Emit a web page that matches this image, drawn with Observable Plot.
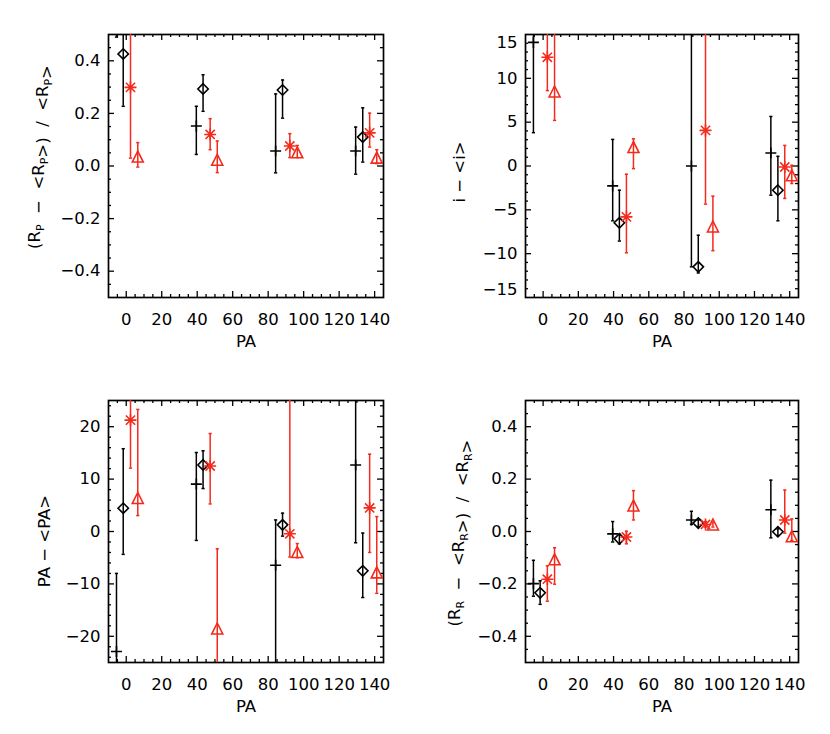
<!DOCTYPE html>
<html><head><meta charset="utf-8">
<script src="https://cdn.jsdelivr.net/npm/d3@7"></script>
<script src="https://cdn.jsdelivr.net/npm/@observablehq/plot@0.6"></script>
<style>
body{margin:0;background:#fff;}
#wrap{position:relative;width:830px;height:734px;background:#fff;}
.panel{position:absolute;}
</style></head><body><div id="wrap"></div>
<script>
// ---- x positions (PA, with small offsets per series) ----
const xPlus     = [-5.5, 39.5, 84.2, 129.3];
const xDiamond  = [-1.7, 43.3, 88.1, 133.3];
const xStar     = [2.4, 47.3, 92.2, 137.2];
const xTriangle = [6.5, 51.3, 96.4, 141.2];

// ---- panel 1: (Rp - <Rp>)/<Rp> ----
const rpPlus = [0.62, 0.152, 0.057, 0.057], rpPlusLo = [0.49, 0.044, -0.026, -0.031], rpPlusHi = [0.75, 0.227, 0.274, 0.148];
const rpDiam = [0.426, 0.293, 0.289, 0.110], rpDiamLo = [0.227, 0.208, 0.182, 0.015], rpDiamHi = [0.62, 0.347, 0.327, 0.221];
const rpStar = [0.299, 0.120, 0.076, 0.126], rpStarLo = [0.030, 0.062, 0.032, 0.072], rpStarHi = [0.57, 0.180, 0.123, 0.201];
const rpTri  = [0.036, 0.024, 0.052, 0.032], rpTriLo  = [-0.004, -0.025, 0.032, 0.009], rpTriHi = [0.089, 0.095, 0.078, 0.062];

// ---- panel 2: i - <i> ----
const iPlus = [14.1, -2.27, 0.0, 1.48], iPlusLo = [3.8, -6.25, -11.5, -3.33], iPlusHi = [24.4, 3.03, 17, 5.65];
const iDiam = [19, -6.48, -11.5, -2.76], iDiamLo = [16, -8.56, -12.2, -6.25], iDiamHi = [22, -2.76, -7.9, 1.1];
const iStar = [12.4, -5.8, 4.06, -0.11], iStarLo = [8.6, -9.9, -4.35, -3.7], iStarHi = [16.2, -0.94, 16, 2.35];
const iTri  = [8.5, 2.16, -6.9, -1.06], iTriLo = [5.2, -0.3, -9.66, -2.0], iTriHi = [16, 3.1, -3.44, 0.08];

// ---- panel 3: PA - <PA> ----
const paPlus = [-22.9, 9.05, -6.45, 12.7], paPlusLo = [-38, -1.7, -30, -2.15], paPlusHi = [-8.0, 15.07, 2.2, 27];
const paDiam = [4.44, 12.7, 1.27, -7.5], paDiamLo = [-4.36, 8.2, -0.88, -12.6], paDiamHi = [15.8, 15.4, 3.5, -0.3];
const paStar = [21.25, 12.5, -0.44, 4.5], paStarLo = [12.1, 5.26, -4.87, -4.0], paStarHi = [30, 18.7, 30, 14.75];
const paTri  = [6.4, -18.5, -3.9, -7.8], paTriLo = [3.04, -30, -5.0, -11.8], paTriHi = [23.3, -3.3, -2.3, 2.85];

// ---- panel 4: (Rr - <Rr>)/<Rr> ----
const rrPlus = [-0.199, -0.009, 0.044, 0.083], rrPlusLo = [-0.247, -0.040, 0.027, -0.024], rrPlusHi = [-0.11, 0.038, 0.077, 0.196];
const rrDiam = [-0.234, -0.028, 0.032, -0.001], rrDiamLo = [-0.278, -0.047, 0.019, -0.015], rrDiamHi = [-0.188, -0.011, 0.044, 0.010];
const rrStar = [-0.182, -0.021, 0.027, 0.044], rrStarLo = [-0.266, -0.047, 0.017, -0.006], rrStarHi = [-0.131, 0.001, 0.038, 0.158];
const rrTri  = [-0.106, 0.099, 0.027, -0.018], rrTriLo = [-0.201, 0.044, 0.017, -0.034], rrTriHi = [-0.062, 0.156, 0.035, 0.048];

// ---- tick labels ----
const xTickLabels = [0, 20, 40, 60, 80, 100, 120, 140];
const fracTickLabels = [-0.4, -0.2, 0.0, 0.2, 0.4];
const incTickLabels = [-10, -5, 0, 5, 10];
const incEdgeTop = [15], incEdgeBottom = [-15];
const paTickLabels = [-20, -10, 0, 10, 20];

const BLACK = "#000", RED = "#f42a1c";
const FONT = "DejaVu Sans";

const sym = fn => ({draw(c){ fn(c); }});
const plusSym = sym(c => {c.moveTo(-5.5,0);c.lineTo(5.5,0);c.moveTo(0,-5.5);c.lineTo(0,5.5);});
const diamSym = sym(c => {c.moveTo(0,-5.2);c.lineTo(5.2,0);c.lineTo(0,5.2);c.lineTo(-5.2,0);c.closePath();});
const starSym = sym(c => {c.moveTo(-6,0);c.lineTo(6,0);c.moveTo(0,-6);c.lineTo(0,6);c.moveTo(-4.6,-4.6);c.lineTo(4.6,4.6);c.moveTo(-4.6,4.6);c.lineTo(4.6,-4.6);});
const triSym  = sym(c => {c.moveTo(-5.5,5.5);c.lineTo(0,-5.5);c.lineTo(5.5,5.5);c.closePath();});
const capSym  = sym(c => {c.moveTo(-1.6,0);c.lineTo(1.6,0);});

function rows(x, v, lo, hi){ return x.map((d,i)=>({x:d, v:v[i], lo:lo[i], hi:hi[i]})); }

function seriesMarks(data, symbol, color){
  return [
    Plot.ruleX(data, {x:"x", y1:"lo", y2:"hi", stroke:color, strokeWidth:1.5, clip:true}),
    Plot.dot(data, {x:"x", y:"lo", r:3, symbol:capSym, stroke:color, fill:"none", strokeWidth:1.5, clip:true}),
    Plot.dot(data, {x:"x", y:"hi", r:3, symbol:capSym, stroke:color, fill:"none", strokeWidth:1.5, clip:true}),
    Plot.dot(data, {x:"x", y:"v", r:5, symbol, stroke:color, fill:"none", strokeWidth:1.6, clip:true})
  ];
}

function panel(cfg){
  const W = 415, H = 367;
  const FW = W - cfg.ml - cfg.mr, FH = H - cfg.mt - cfg.mb;
  const xMajor = xTickLabels;
  const xMinor = d3.range(-5, 145, 5).filter(d => d % 20 !== 0);
  const tickStyle = {stroke:BLACK, strokeWidth:1.3};
  const marks = [
    Plot.ruleX(xMajor, {x:d=>d, insetTop:FH-6, ...tickStyle}),
    Plot.ruleX(xMajor, {x:d=>d, insetBottom:FH-6, ...tickStyle}),
    Plot.ruleX(xMinor, {x:d=>d, insetTop:FH-3, ...tickStyle}),
    Plot.ruleX(xMinor, {x:d=>d, insetBottom:FH-3, ...tickStyle}),
    Plot.ruleY(cfg.yMajor, {y:d=>d, insetRight:FW-6, ...tickStyle}),
    Plot.ruleY(cfg.yMajor, {y:d=>d, insetLeft:FW-6, ...tickStyle}),
    Plot.ruleY(cfg.yMinor, {y:d=>d, insetRight:FW-3, ...tickStyle}),
    Plot.ruleY(cfg.yMinor, {y:d=>d, insetLeft:FW-3, ...tickStyle}),
    Plot.frame({stroke:BLACK, strokeWidth:1.7}),
    Plot.text(xTickLabels, {x:d=>d, frameAnchor:"bottom", dy:22, lineAnchor:"middle", text:d=>String(d), fontSize:16.5, fill:BLACK}),
    Plot.text(cfg.yLabels, {y:d=>d, frameAnchor:"left", dx:-8, textAnchor:"end", lineAnchor:"middle", text:cfg.fmt, fontSize:16.5, fill:BLACK}),
    Plot.text(["PA"], {frameAnchor:"bottom", dy:44, lineAnchor:"middle", text:d=>d, fontSize:16.5, fill:BLACK}),
    ...(cfg.extra || []),
    ...seriesMarks(rows(xPlus, ...cfg.plus), plusSym, BLACK),
    ...seriesMarks(rows(xDiamond, ...cfg.diam), diamSym, BLACK),
    ...seriesMarks(rows(xStar, ...cfg.star), starSym, RED),
    ...seriesMarks(rows(xTriangle, ...cfg.tri), triSym, RED)
  ];
  const svg = Plot.plot({
    width:W, height:H,
    marginLeft:cfg.ml, marginRight:cfg.mr, marginTop:cfg.mt, marginBottom:cfg.mb,
    style:{fontFamily:FONT, fontSize:"16.5px", background:"#fff", overflow:"visible"},
    x:{domain:[-10,145], axis:null},
    y:{domain:cfg.yDomain, axis:null},
    marks
  });
  const t = d3.select(svg).append("text")
    .attr("transform", `translate(${cfg.tx},${cfg.ty}) rotate(-90)`)
    .attr("text-anchor","middle").attr("font-family",FONT).attr("font-size",16.5).attr("fill",BLACK);
  cfg.title.forEach(([s, sub]) => {
    if (sub) {
      t.append("tspan").attr("font-size",11).attr("dy",4).text(s);
      t.append("tspan").attr("dy",-4).text("");
    } else {
      t.append("tspan").text(s);
    }
  });
  const div = document.createElement("div");
  div.className = "panel";
  div.style.left = cfg.left + "px"; div.style.top = cfg.top + "px";
  div.appendChild(svg);
  document.getElementById("wrap").appendChild(div);
}

const NB = "\u00A0";
const fracMajor = [-0.4,-0.2,0,0.2,0.4];
const fracMinor = d3.range(-9, 10).map(d => d*0.05).filter(d => Math.abs(Math.round(d*100)) % 20 !== 0);
const f1 = d3.format(".1f"), fd = d3.format("d");

panel({left:0, top:0, ml:108, mr:32, mt:34, mb:70, yDomain:[-0.5,0.5],
  yMajor:fracMajor, yMinor:fracMinor, yLabels:fracTickLabels, fmt:f1,
  plus:[rpPlus, rpPlusLo, rpPlusHi], diam:[rpDiam, rpDiamLo, rpDiamHi],
  star:[rpStar, rpStarLo, rpStarHi], tri:[rpTri, rpTriLo, rpTriHi],
  tx:40, ty:157,
  title:[["(R"],["P",1],[NB+NB+"−"+NB+NB+"<R"],["P",1],[">)"+NB+NB+"/"+NB+NB+"<R"],["P",1],[">"]]
});

panel({left:415, top:0, ml:110, mr:32, mt:34, mb:70, yDomain:[-15,15],
  yMajor:[-10,-5,0,5,10], yMinor:d3.range(-14,15).filter(d => d % 5 !== 0), yLabels:incTickLabels, fmt:fd,
  extra:[
    Plot.text(incEdgeTop, {y:d=>d, frameAnchor:"left", dx:-8, dy:8, textAnchor:"end", lineAnchor:"middle", text:fd, fontSize:16.5, fill:BLACK}),
    Plot.text(incEdgeBottom, {y:d=>d, frameAnchor:"left", dx:-8, dy:-8, textAnchor:"end", lineAnchor:"middle", text:fd, fontSize:16.5, fill:BLACK})
  ],
  plus:[iPlus, iPlusLo, iPlusHi], diam:[iDiam, iDiamLo, iDiamHi],
  star:[iStar, iStarLo, iStarHi], tri:[iTri, iTriLo, iTriHi],
  tx:50, ty:172,
  title:[["i"+NB+"−"+NB+"<i>"]]
});

panel({left:0, top:367, ml:108, mr:32, mt:33, mb:72, yDomain:[-25,25],
  yMajor:[-20,-10,0,10,20], yMinor:d3.range(-24,25,2).filter(d => d % 10 !== 0), yLabels:paTickLabels, fmt:fd,
  plus:[paPlus, paPlusLo, paPlusHi], diam:[paDiam, paDiamLo, paDiamHi],
  star:[paStar, paStarLo, paStarHi], tri:[paTri, paTriLo, paTriHi],
  tx:50, ty:174,
  title:[["PA"+NB+"−"+NB+"<PA>"]]
});

panel({left:415, top:367, ml:110, mr:32, mt:33, mb:72, yDomain:[-0.5,0.5],
  yMajor:fracMajor, yMinor:fracMinor, yLabels:fracTickLabels, fmt:f1,
  plus:[rrPlus, rrPlusLo, rrPlusHi], diam:[rrDiam, rrDiamLo, rrDiamHi],
  star:[rrStar, rrStarLo, rrStarHi], tri:[rrTri, rrTriLo, rrTriHi],
  tx:45, ty:166,
  title:[["(R"],["R",1],[NB+NB+"−"+NB+NB+"<R"],["R",1],[">)"+NB+NB+"/"+NB+NB+"<R"],["R",1],[">"]]
});
</script></body></html>
